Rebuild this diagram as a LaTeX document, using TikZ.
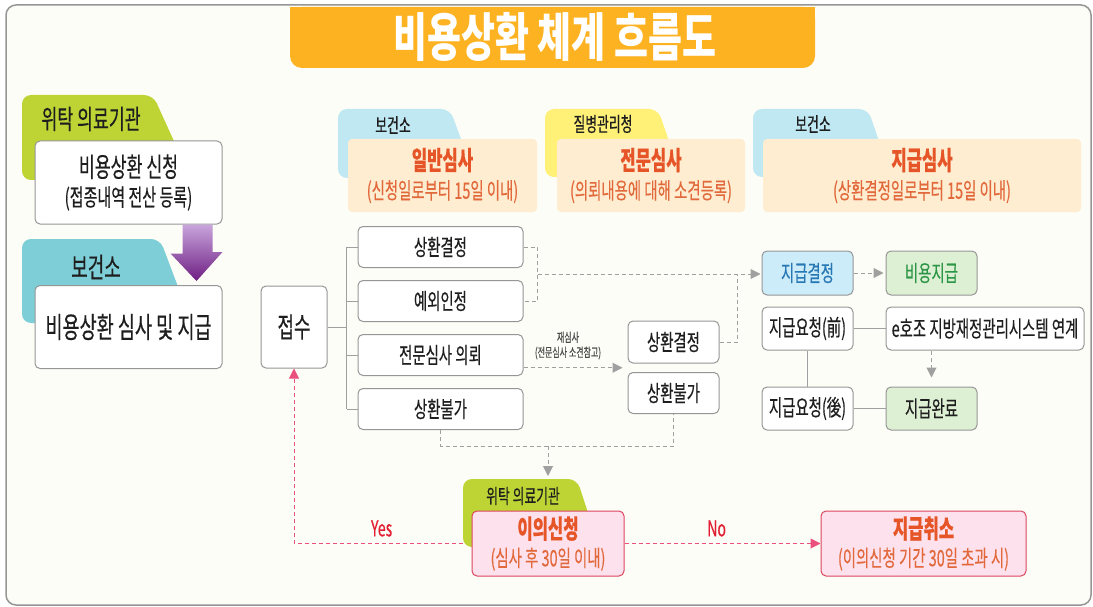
\documentclass[tikz,border=0pt]{standalone}
\usepackage{fontspec}
\setmainfont{Noto Sans CJK KR}[FakeStretch=0.64,FakeBold=0.3]
\newfontfamily\titlefont{Noto Sans CJK KR}[FakeStretch=0.71]
\usetikzlibrary{positioning,arrows.meta,calc}

\definecolor{framegray}{RGB}{150,150,150}
\definecolor{paper}{RGB}{253,253,247}
\definecolor{titleorange}{RGB}{253,178,33}
\definecolor{tabgreen}{RGB}{190,212,52}
\definecolor{tabteal}{RGB}{125,206,214}
\definecolor{tabblue}{RGB}{192,232,243}
\definecolor{tabyellow}{RGB}{255,240,120}
\definecolor{headcream}{RGB}{254,237,208}
\definecolor{headred}{RGB}{230,85,40}
\definecolor{subred}{RGB}{226,105,60}
\definecolor{boxgray}{RGB}{150,150,150}
\definecolor{linegray}{RGB}{160,160,160}
\definecolor{decidefill}{RGB}{205,236,250}
\definecolor{decidetext}{RGB}{40,120,180}
\definecolor{paidfill}{RGB}{222,240,212}
\definecolor{paidtext}{RGB}{45,150,70}
\definecolor{pinkfill}{RGB}{253,226,238}
\definecolor{pinkline}{RGB}{220,70,95}
\definecolor{pinkdash}{RGB}{235,80,125}
\definecolor{yesno}{RGB}{225,30,50}
\definecolor{arrtop}{RGB}{200,165,220}
\definecolor{arrbot}{RGB}{110,30,130}
\definecolor{ink}{RGB}{30,30,30}

\begin{document}
\begin{tikzpicture}[x=1pt,y=1pt,node distance=12pt,
    box/.style={draw=boxgray,line width=1pt,fill=white,rounded corners=5pt,
                align=center,inner sep=0pt,text=ink},
    big box/.style={box,minimum width=187pt,minimum height=83pt},
    branch box/.style={box,minimum width=165pt,minimum height=41pt,font=\fontsize{22.5}{24}\selectfont},
    small box/.style={box,minimum width=91pt,minimum height=43pt,font=\fontsize{22.5}{24}\selectfont},
    head box/.style={fill=headcream,rounded corners=4pt,minimum height=73pt,align=center,
                     inner sep=0pt,text=subred,font=\fontsize{22.5}{29}\selectfont},
    pink box/.style={box,draw=pinkline,fill=pinkfill,minimum height=65pt,text=subred,
                     font=\fontsize{22.5}{28}\selectfont},
    tab label/.style={font=\fontsize{20}{22}\selectfont,text=ink,inner sep=0pt},
    branch line/.style={draw=linegray,line width=1pt},
    dash line/.style={draw=linegray,line width=1pt,dash pattern=on 4pt off 3pt},
    dash arrow/.style={dash line,-{Triangle[length=10pt,width=10pt]}},
    pink arrow/.style={draw=pinkdash,line width=1pt,dash pattern=on 4pt off 3pt,
                       -{Triangle[length=10pt,width=10pt]}}]
  \useasboundingbox (0,0) rectangle (1093,-607);
  %frame and title%
  \draw[framegray,fill=paper,line width=1.5pt,rounded corners=10pt] (6,-5) rectangle (1091,-605);
  \fill[titleorange,rounded corners=12pt] (290,-7) rectangle (815,-68);
  \fill[titleorange] (290,-7) rectangle (815,-30);
  \node[font=\titlefont\bfseries\fontsize{52}{52}\selectfont,text=white] (title) at (555,-37) {비용상환 체계 흐름도};

  %left column%
  \fill[tabgreen,rounded corners=9pt] (22,-180) -- (22,-95) -- (153,-95) -- (178,-150) -- (178,-180) -- cycle;
  \fill[tabteal,rounded corners=9pt] (22,-323) -- (22,-239) -- (160,-239) -- (180,-292) -- (180,-323) -- cycle;
  \node[tab label,font=\fontsize{27}{28}\selectfont] (tabinst) at (91,-119) {위탁 의료기관};
  \node[tab label,font=\fontsize{28}{29}\selectfont] (tabctr) at (96,-267) {보건소};
  \node[big box,font=\fontsize{27}{29}\selectfont] (apply) at (128.5,-182.5)
    {비용상환 신청\\{\fontsize{23.5}{29}\selectfont(접종내역 전산 등록)}};
  \node[big box,font=\fontsize{29}{29}\selectfont] (review) at (128.5,-327) {비용상환 심사 및 지급};
  \shade[top color=arrtop,bottom color=arrbot]
    ([xshift=-40pt]apply.south east) -- ++(0,-29) -- ++(-12,0)
    -- ([xshift=-26pt,yshift=4pt]review.north east) -- ++(26,29) -- ++(-10,0)
    -- ([xshift=-10pt]apply.south east) -- cycle;

  %headers%
  \fill[tabblue,rounded corners=9pt] (338,-178) -- (338,-109) -- (450,-109) -- (465,-150) -- (465,-178) -- cycle;
  \fill[tabyellow,rounded corners=9pt] (545,-177) -- (545,-109) -- (658,-109) -- (672,-150) -- (672,-177) -- cycle;
  \fill[tabblue,rounded corners=9pt] (753,-177) -- (753,-109) -- (868,-109) -- (882,-150) -- (882,-177) -- cycle;
  \node[tab label] (tabgen) at (393,-125) {보건소};
  \node[tab label] (tabkdca) at (603,-124) {질병관리청};
  \node[tab label] (tabpay) at (813,-124) {보건소};
  \node[head box,minimum width=189pt] (gen) at (442.5,-175.5)
    {{\fontsize{26}{29}\selectfont\bfseries\color{headred}일반심사}\\(신청일로부터 15일 이내)};
  \node[head box,minimum width=188pt] (spec) at (651,-175.5)
    {{\fontsize{26}{29}\selectfont\bfseries\color{headred}전문심사}\\(의뢰내용에 대해 소견등록)};
  \node[head box,minimum width=318pt] (pay) at (922,-175.5)
    {{\fontsize{26}{29}\selectfont\bfseries\color{headred}지급심사}\\(상환결정일로부터 15일 이내)};

  %general review%
  \node[box,minimum width=66pt,minimum height=82pt,font=\fontsize{28}{29}\selectfont] (rcpt) at (294,-327) {접수};
  \node[branch box] (b1) at (440.5,-247) {상환결정};
  \node[branch box] (b2) [below=of b1] {예외인정};
  \node[branch box] (b3) [below=of b2] {전문심사 의뢰};
  \node[branch box] (b4) [below=of b3] {상환불가};
  \node[small box,minimum height=42pt] (rc2) at (673.5,-342) {상환결정};
  \node[small box,minimum height=41pt] (rn2) [below=8.5pt of rc2] {상환불가};
  \node[font=\fontsize{12.5}{15}\selectfont,text=ink!80,align=center,inner sep=0pt] (resc) at (568,-345.5)
    {재심사\\(전문심사 소견참고)};

  %payment review%
  \node[small box,fill=decidefill,minimum height=44pt,text=decidetext] (decide) at (807.5,-273) {지급결정};
  \node[small box,fill=paidfill,minimum height=44pt,text=paidtext] (paid) [right=32pt of decide] {비용지급};
  \node[small box] (req1) [below=11pt of decide] {지급요청(前)};
  \node[small box,minimum width=198pt] (ehojo) [right=32pt of req1] {e호조 지방재정관리시스템 연계};
  \node[small box] (req2) [below=36pt of req1] {지급요청(後)};
  \node[small box,fill=paidfill] (done) [right=32pt of req2] {지급완료};

  %objection%
  \fill[tabgreen,rounded corners=9pt] (463,-547) -- (463,-479) -- (577,-479) -- (591,-522) -- (591,-547) -- cycle;
  \node[tab label] (tabobj) at (523,-496) {위탁 의료기관};
  \node[pink box,minimum width=152pt] (obj) at (548,-543.5)
    {{\fontsize{26}{28}\selectfont\bfseries\color{headred}이의신청}\\(심사 후 30일 이내)};
  \node[pink box,minimum width=205pt] (cancel) at (923.5,-543.5)
    {{\fontsize{26}{28}\selectfont\bfseries\color{headred}지급취소}\\(이의신청 기간 30일 초과 시)};

  %connectors%
  \draw[branch line] (rcpt.east) -- ++(19,0) coordinate (fork);
  \draw[branch line] (fork |- b1.west) -- (fork |- b4.west);
  \foreach \b in {b1,b2,b3,b4}
    \draw[branch line] (fork |- \b.west) -- (\b.west);
  \draw[dash line] (b1.east) -- ++(14,0) |- (b2.east);
  \coordinate (j1) at ($(b1.east)!0.5!(b2.east)+(14,0)$);
  \draw[dash arrow,shorten >=1pt] (j1) -- (j1 -| decide.west);
  \draw[dash line] (rc2.east) -- ++(18,0) coordinate (j2) -- (j2 |- j1);
  \coordinate (gap2) at ($(rc2.south west)!0.5!(rn2.north west)$);
  \draw[dash arrow] (b3.east |- gap2) -- ([xshift=-5pt]gap2);
  \draw[dash line] (b4.south) -- ++(0,-16) coordinate (m1) -| (rn2.south);
  \draw[dash arrow] (m1 -| obj.north) -- ++(0,-30);
  \draw[dash arrow,shorten >=2pt] (decide) -- (paid);
  \draw[branch line] (req1) -- (ehojo);
  \draw[branch line] (req1) -- (req2);
  \draw[branch line] (req2) -- (done);
  \draw[dash arrow,shorten >=9pt] (done.north |- ehojo.south) -- (done.north);
  \draw[pink arrow] (obj.east) -- (cancel.west)
    node[pos=0.47,above=3pt,font=\fontsize{22}{24}\selectfont,text=yesno] (no) {No};
  \draw[pink arrow] ([xshift=-9pt]obj.west) -| (rcpt.south)
    node[pos=0.24,above=3pt,font=\fontsize{22}{24}\selectfont,text=yesno] (yes) {Yes};
\end{tikzpicture}
\end{document}
